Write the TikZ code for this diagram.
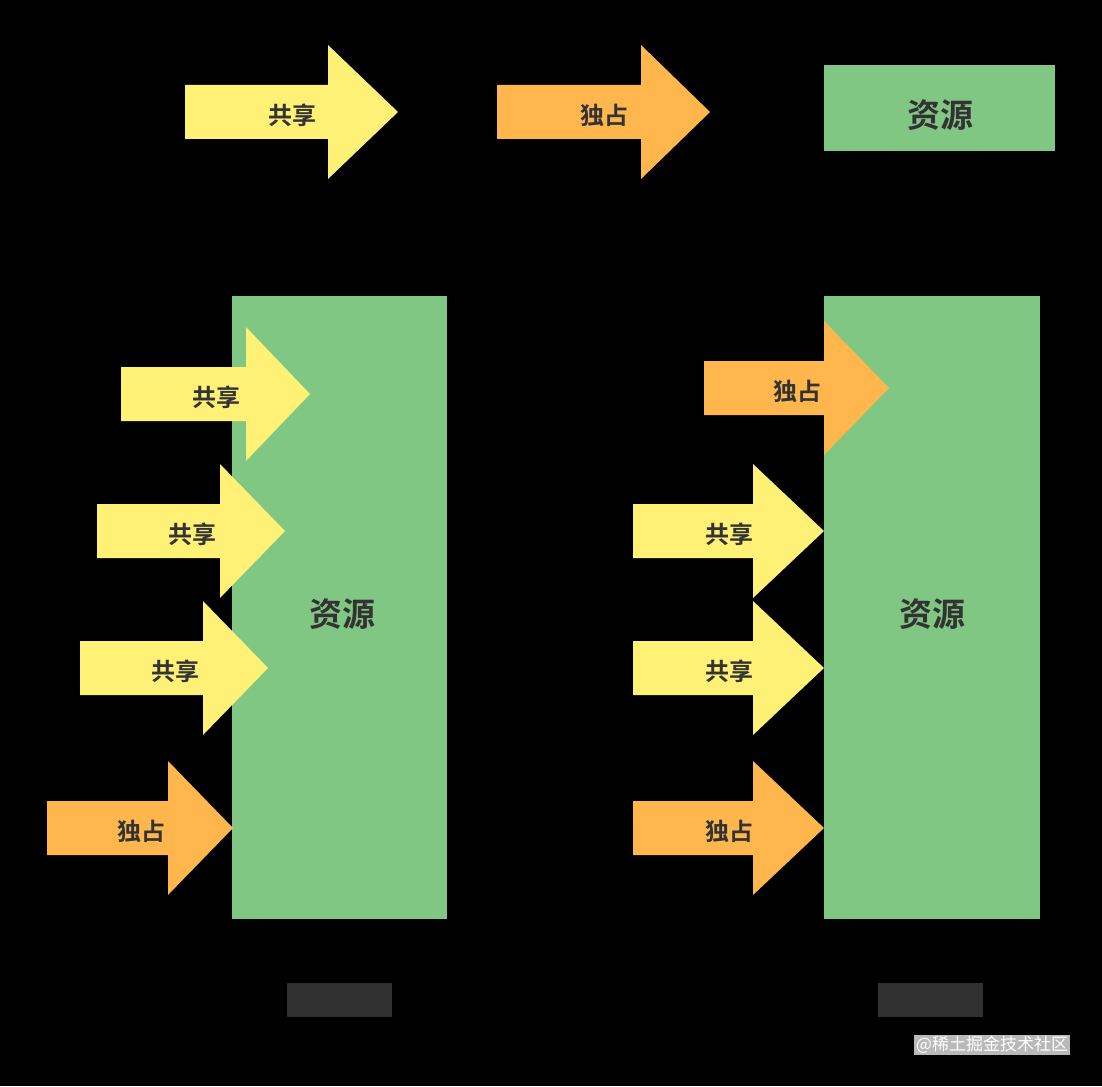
\documentclass[tikz,border=0pt]{standalone}
\usepackage{fontspec}
\setmainfont{Noto Sans CJK SC}[BoldFont={Noto Sans CJK SC Bold}]
\definecolor{shy}{HTML}{FFF176}
\definecolor{exo}{HTML}{FFB74D}
\definecolor{res}{HTML}{81C784}
\definecolor{ink}{HTML}{333333}
\definecolor{blk}{HTML}{303030}
\tikzset{
  lbl/.style={text=ink,font=\bfseries\fontsize{24}{28}\selectfont,inner sep=0pt},
  reslbl/.style={text=ink,font=\bfseries\fontsize{33}{38}\selectfont,inner sep=0pt},
  resbox/.style={fill=res,draw=none},
  blockbox/.style={fill=blk,draw=none},
}
\newcommand{\myarrow}[7]{%
  \fill[#6] (#2,#3-27) -- (#4,#3-27) -- (#4,#3-67) -- (#5,#3) -- (#4,#3+67) -- (#4,#3+27) -- (#2,#3+27) -- cycle;
  \node[lbl] (#1) at ({(#2+#5)/2+1},#3+3) {#7};
}
\begin{document}
\begin{tikzpicture}[x=1pt,y=-1pt]
\fill[black] (0,0) rectangle (1102,1086);
\useasboundingbox (0,0) rectangle (1102,1086);
% top legend
\myarrow{t1}{185}{112}{328}{398}{shy}{共享}
\myarrow{t2}{497}{112}{641}{710}{exo}{独占}
\node[resbox,minimum width=231pt,minimum height=86pt,inner sep=0pt] (tres) at (939.5,108.5) {};
\node[reslbl] (treslbl) at (940,115) {资源};
% left resource
\node[resbox,minimum width=215pt,minimum height=623pt,inner sep=0pt] (lres) at (339.5,607.5) {};
\node[reslbl] (lreslbl) at (342,614) {资源};
\myarrow{a1}{121}{394}{246}{310}{shy}{共享}
\myarrow{a2}{97}{531}{220}{285}{shy}{共享}
\myarrow{a3}{80}{668}{203}{268}{shy}{共享}
\myarrow{a4}{47}{828}{168}{233}{exo}{独占}
% right resource
\node[resbox,minimum width=216pt,minimum height=623pt,inner sep=0pt] (rres) at (932,607.5) {};
\node[reslbl] (rreslbl) at (932,614) {资源};
\myarrow{b1}{704}{388}{824}{889}{exo}{独占}
\myarrow{b2}{633}{531}{753}{824}{shy}{共享}
\myarrow{b3}{633}{668}{753}{824}{shy}{共享}
\myarrow{b4}{633}{828}{753}{824}{exo}{独占}
% bottom captions (obscured)
\node[blockbox,minimum width=105pt,minimum height=34pt,inner sep=0pt] (lcap) at (339.5,1000) {};
\node[blockbox,minimum width=105pt,minimum height=34pt,inner sep=0pt] (rcap) at (930.5,1000) {};
% watermark
\node[fill=gray!55,text=white,font=\fontsize{17}{19}\selectfont,inner xsep=2pt,inner ysep=1pt] (wm) at (992,1045) {@稀土掘金技术社区};
\end{tikzpicture}
\end{document}
